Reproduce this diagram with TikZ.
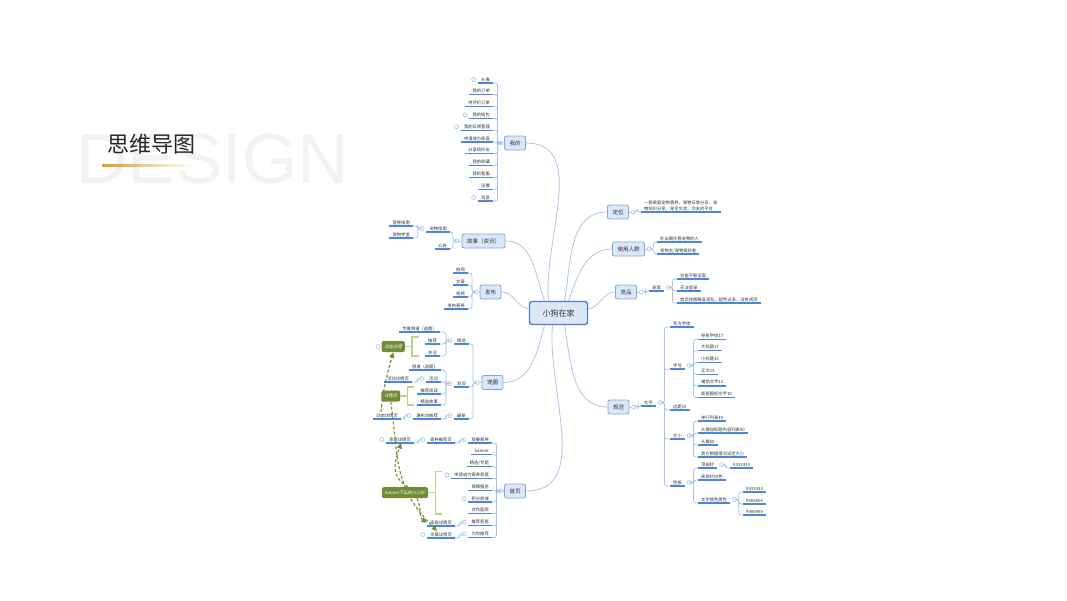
\documentclass[tikz,border=0pt]{standalone}
\usepackage{fontspec}
\newfontfamily\cjk{Noto Sans CJK SC}
\newfontfamily\cjkit[FakeSlant=0.2]{Noto Sans CJK SC}
\newfontfamily\bigsans{Liberation Sans}
\usetikzlibrary{arrows.meta,positioning,calc,fadings}
\definecolor{branch}{HTML}{A6C2EA}
\definecolor{uline}{HTML}{4C86DA}
\definecolor{topicfill}{HTML}{DCE7F6}
\definecolor{topicline}{HTML}{7EA6DF}
\definecolor{rootline}{HTML}{4F7FCF}
\definecolor{oliv}{HTML}{6F8C34}
\definecolor{summ}{HTML}{B9D28E}
\definecolor{gold}{HTML}{D3A118}
\definecolor{ink}{HTML}{2B2F3A}
\tikzset{
  >={Stealth[length=2mm]},
  root/.style={draw=rootline, line width=1.4pt, rounded corners=2.5pt, fill=topicfill, text=ink, font=\cjk\fontsize{8}{9}\selectfont, minimum width=58pt, minimum height=23pt},
  topic/.style={draw=topicline, line width=0.8pt, rounded corners=2pt, fill=topicfill, text=ink, font=\cjk\fontsize{5.5}{6}\selectfont, minimum width=21pt, minimum height=14pt, inner xsep=5pt},
  leaf/.style={font=\cjk\fontsize{4.3}{6}\selectfont, text=ink, inner xsep=3pt, inner ysep=1.2pt, text height=3.6pt, text depth=0.6pt, align=left,
    append after command={(\tikzlastnode.south west) edge[draw=uline, line width=1.2pt, -] (\tikzlastnode.south east)}},
  knob/.style={circle, draw=branch, fill=white, line width=0.6pt, minimum size=4pt, inner sep=0pt},
  link/.style={draw=branch, line width=0.75pt},
  lspine/.style={link, rounded corners=2.5pt},
  rspine/.style={link, rounded corners=2.5pt},
  note/.style={rounded corners=2pt, fill=oliv, text=white, font=\cjkit\fontsize{4.3}{5}\selectfont, inner xsep=3pt, minimum height=11pt},
  bracket/.style={draw=summ, line width=1.4pt},
  rel/.style={draw=oliv, dashed, dash pattern=on 3pt off 2pt, line width=1.1pt, -{Triangle[length=5.5pt,width=5pt]}},
}

\begin{document}
\begin{tikzpicture}[x=1pt, y=1pt]
  \useasboundingbox (0,0) rectangle (1067,-600);
  % title
  \node[font=\bigsans\fontsize{71}{71}\selectfont, text=black!5, inner sep=0pt] (bg) at (212.5,-159.5) {DESIGN};
  \node[font=\cjk\fontsize{22}{22}\selectfont, text=black!85, inner sep=0pt] (ttl) at (151,-144) {思维导图};
  \fill[gold, path fading=east] (102,-163.5) rectangle (192,-166.5);

  % centre and main topics
  \node[root] (pet) at (558.5,-313) {小狗在家};
  \node[topic] (me) at (515,-143) {我的};
  \node[topic] (story) at (483.5,-241) {故事（资讯）};
  \node[topic] (pub) at (490.5,-292) {发布};
  \node[topic] (circ) at (492.5,-382.5) {宠圈};
  \node[topic] (home) at (515,-491) {首页};
  \node[topic] (pos) at (618,-212) {定位};
  \node[topic] (users) at (628.5,-249) {使用人群};
  \node[topic] (comp) at (626,-292) {竞品};
  \node[topic] (spec) at (618.5,-407) {规范};
  \draw[link] ([xshift=-10pt]pet.north) to[out=95,in=0] (me.east);
  \draw[link] ([xshift=-14pt]pet.north) to[out=110,in=0] (story.east);
  \draw[link] ([yshift=4pt]pet.west) to[out=170,in=0] (pub.east);
  \draw[link] ([xshift=-14pt]pet.south) to[out=-105,in=0] (circ.east);
  \draw[link] ([xshift=-6pt]pet.south) to[out=-95,in=0] (home.east);
  \draw[link] ([xshift=6pt]pet.north) to[out=80,in=180] (pos.west);
  \draw[link] ([xshift=10pt]pet.north) to[out=70,in=180] (users.west);
  \draw[link] ([yshift=4pt]pet.east) to[out=10,in=180] (comp.west);
  \draw[link] ([xshift=6pt]pet.south) to[out=-80,in=180] (spec.west);

  \node[knob, left=0.5pt of me.west] (kme) {};
  \node[knob, left=2.5pt of story.west] (kstory) {};
  \node[knob, left=1pt of pub.west] (kpub) {};
  \node[knob, left=2pt of circ.west] (kcirc) {};
  \node[knob, left=1pt of home.west] (khome) {};
  \node[knob, right=2pt of pos.east] (kpos) {};
  \node[knob, right=2pt of users.east] (kusers) {};
  \node[knob, right=2pt of comp.east] (kcomp) {};
  \node[knob, right=2pt of spec.east] (kspec) {};
  \foreach \t in {me,story,pub,circ,home} \draw[link] (\t.west) -- (k\t.east);
  \foreach \t in {pos,users,comp,spec} \draw[link] (\t.east) -- (k\t.west);

  % 我的
  \foreach \n/\l [count=\i] in {me1/头像, me2/我的订单, me3/待评价订单, me4/我的钱包, me5/我的日常管理, me6/申请成为家庭, me7/分享给好友, me8/我的收藏, me9/我的客服, me10/设置, me11/消息} {
    \node[leaf, anchor=south east] (\n) at (493,{-71.2-11.8*\i}) {\l};
    \draw[lspine] (kme.west) -- ++(-1.5,0) |- (\n.south east);
  }
  \foreach \n in {me1,me4,me5,me11} \node[knob, left=2pt of \n.west] (k\n) {};

  % 故事
  \node[leaf, anchor=south east] (guide) at (450,-232) {宠物指南};
  \node[leaf, anchor=south east] (notice) at (450,-249) {公告};
  \foreach \n in {guide,notice} \draw[lspine] (kstory.west) -- ++(-1.5,0) |- (\n.south east);
  \node[knob, left=2pt of guide.west] (kguide) {};
  \node[leaf, anchor=south east] (food) at (413,-226) {营养指南};
  \node[leaf, anchor=south east] (school) at (413,-238) {宠物学堂};
  \foreach \n in {food,school} \draw[lspine] (kguide.west) -- ++(-2,0) |- (\n.south east);

  % 发布
  \foreach \n/\l [count=\i] in {pub1/拍照, pub2/文章, pub3/视频, pub4/发布寄养} {
    \node[leaf, anchor=south east] (\n) at (468,{-261-12*\i}) {\l};
    \draw[lspine] (kpub.west) -- ++(-2,0) |- (\n.south east);
  }

  % 宠圈
  \foreach \n/\l/\y in {sel/精选/344, disc/发现/387, new/最新/419} {
    \node[leaf, anchor=south east] (\n) at (469,-\y) {\l};
    \draw[lspine] (kcirc.west) -- ++(-2,0) |- (\n.south east);
    \node[knob, left=2pt of \n.west] (k\n) {};
  }
  \foreach \n/\l/\y in {ch1/专属频道（选题）/332, rec/推荐/344, fol/关注/356} {
    \node[leaf, anchor=south east] (\n) at (440,-\y) {\l};
    \draw[lspine] (ksel.west) -- ++(-1.5,0) |- (\n.south east);
  }
  \foreach \n/\l/\y in {ch2/频道（选题）/370, act/活动/382, read/推荐阅读/394, feat/精选故事/405} {
    \node[leaf, anchor=south east] (\n) at (441,-\y) {\l};
    \draw[lspine] (kdisc.west) -- ++(-1.5,0) |- (\n.south east);
  }
  \node[knob, left=2pt of act.west] (kact) {};
  \node[leaf, anchor=south east] (actd) at (412,-382) {活动详情页};
  \draw[lspine] (kact.west) -- ++(-2,0) |- (actd.south east);
  \node[leaf, anchor=south east] (flow) at (441,-419) {瀑布流推荐};
  \draw[lspine] (knew.west) -- ++(-1.5,0) |- (flow.south east);
  \node[knob, left=2pt of flow.west] (kflow) {};
  \node[leaf, anchor=south east] (dynd) at (401,-419) {动态详情页};
  \draw[lspine] (kflow.west) -- ++(-2,0) |- (dynd.south east);

  % summaries of 宠圈
  \draw[bracket] ([xshift=-6pt]rec.north west) -- ++(-7,0) |- ([xshift=-6pt]rec.west |- fol.south);
  \coordinate (b1) at ($([xshift=-13pt]rec.north west)!0.5!([xshift=-13pt]rec.west |- fol.south)$);
  \node[note, left=7pt of b1] (n1) {动态详情};
  \draw[bracket] (b1) -- (n1);
  \node[knob, left=1pt of n1.west] (kn1) {};
  \draw[bracket] ([xshift=-3pt]read.north west) -- ++(-7,0) |- ([xshift=-3pt]read.west |- feat.south);
  \coordinate (b2) at ($([xshift=-10pt]read.north west)!0.5!([xshift=-10pt]read.west |- feat.south)$);
  \node[note, left=7pt of b2] (n2) {详情页};
  \draw[bracket] (b2) -- (n2);

  % 首页
  \foreach \n/\l [count=\i] in {h1/我要寄养, h2/banner, h3/{精选/专题}, h4/申请成为寄养家庭, h5/保障服务, h6/积分商城, h7/合作医院, h8/推荐家庭, h9/为你推荐} {
    \node[leaf, anchor=south east] (\n) at (492,{-431.2-11.8*\i}) {\l};
    \draw[lspine] (khome.west) -- ++(-2,0) |- (\n.south east);
  }
  \foreach \n in {h1,h4,h6,h8,h9} \node[knob, left=2pt of \n.west] (k\n) {};
  \node[leaf, anchor=south east] (rcm) at (455,-443) {寄养推荐页};
  \draw[lspine] (kh1.west) -- ++(-2,0) |- (rcm.south east);
  \node[knob, left=2pt of rcm.west] (krcm) {};
  \node[leaf, anchor=south east] (fam1) at (414,-443) {家庭详情页};
  \draw[lspine] (krcm.west) -- ++(-2,0) |- (fam1.south east);
  \node[knob, left=2pt of fam1.west] (kfam1) {};
  \node[leaf, anchor=south east] (fam2) at (455,-526) {家庭详情页};
  \draw[lspine] (kh8.west) -- ++(-2,0) |- (fam2.south east);
  \node[leaf, anchor=south east] (art) at (455,-538) {文章详情页};
  \draw[lspine] (kh9.west) -- ++(-2,0) |- (art.south east);
  \node[knob, left=2pt of art.west] (kart) {};
  \draw[bracket] ([xshift=-9pt]h4.north west) -- ++(-7,0) |- ([xshift=-9pt]h4.west |- h7.south);
  \coordinate (b3) at ($([xshift=-16pt]h4.north west)!0.5!([xshift=-16pt]h4.west |- h7.south)$);
  \node[note, left=7pt of b3] (n3) {banner下面的入口栏};
  \draw[bracket] (b3) -- (n3);

  % 定位, 使用人群, 竞品
  \node[leaf, anchor=south west] (desc) at (641,-212) {一款家庭宠物寄养，宠物日常分享，宠\\物知识分享，宠主交流，交友的平台};
  \draw[rspine] (kpos.east) -- ++(2,0) |- (desc.south west);
  \node[leaf, anchor=south west] (u1) at (657,-242) {外出需托管宠物的人};
  \node[leaf, anchor=south west] (u2) at (657,-254) {宠物主/宠物爱好者};
  \foreach \n in {u1,u2} \draw[rspine] (kusers.east) -- ++(2,0) |- (\n.south west);
  \node[leaf, anchor=south west] (nest) at (649,-291) {宠窝};
  \draw[rspine] (kcomp.east) -- ++(2,0) |- (nest.south west);
  \node[knob, right=2pt of nest.east] (knest) {};
  \foreach \n/\l/\y in {c1/功能不够全面/279, c2/无法登录/291, c3/首页排版略显凌乱，配色过多，没有规范/303} {
    \node[leaf, anchor=south west] (\n) at (677,-\y) {\l};
    \draw[rspine] (knest.east) -- ++(2,0) |- (\n.south west);
  }

  % 规范
  \node[leaf, anchor=south west] (word) at (641,-406) {文字};
  \draw[rspine] (kspec.east) -- ++(2,0) |- (word.south west);
  \node[knob, right=2pt of word.east] (kword) {};
  \foreach \n/\l/\y in {fface/苹方字体/327, fsize/字号/369, margin/边距15/410, dims/大小/439, pal/色板/486} {
    \node[leaf, anchor=south west] (\n) at (670,-\y) {\l};
    \draw[rspine] (kword.east) -- ++(2,0) |- (\n.south west);
  }
  \foreach \n in {fsize,dims,pal} \node[knob, right=2pt of \n.east] (k\n) {};
  \foreach \n/\l [count=\i] in {s1/导航字体17, s2/大标题17, s3/小标题15, s4/正文13, s5/辅助文字12, s6/底部图标文字10} {
    \node[leaf, anchor=south west] (\n) at (698,{-327.4-11.7*\i}) {\l};
    \draw[rspine] (kfsize.east) -- ++(2,0) |- (\n.south west);
  }
  \foreach \n/\l [count=\i] in {d1/单行列表45, d2/头像加标题内容列表90, d3/头像50, d4/其它根据情况设定大小} {
    \node[leaf, anchor=south west] (\n) at (698,{-409-12*\i}) {\l};
    \draw[rspine] (kdims.east) -- ++(2,0) |- (\n.south west);
  }
  \foreach \n/\l/\y in {ptop/顶部栏/468, pbot/底部栏白色/480, ptxt/文字颜色黑色/503} {
    \node[leaf, anchor=south west] (\n) at (698,-\y) {\l};
    \draw[rspine] (kpal.east) -- ++(2,0) |- (\n.south west);
  }
  \foreach \n in {ptop,ptxt} \node[knob, right=2pt of \n.east] (k\n) {};
  \node[leaf, anchor=south west] (col0) at (730,-468) {\#333333};
  \draw[rspine] (kptop.east) -- ++(2,0) |- (col0.south west);
  \foreach \n/\l/\y in {col1/\#333333/492, col2/\#666666/504, col3/\#999999/515} {
    \node[leaf, anchor=south west] (\n) at (743,-\y) {\l};
    \draw[rspine] (kptxt.east) -- ++(2,0) |- (\n.south west);
  }

  % relations
  \draw[rel] ([xshift=-6pt]dynd.north) to[out=85,in=-105] (n1.south);
  \draw[rel] (n2.south) .. controls +(8,-55) and +(-45,45) .. ([xshift=10pt]art.north west);
  \draw[rel] ([xshift=3pt]n3.north) .. controls +(-20,12) and +(-5,-15) .. ([xshift=15pt]fam1.south west);
  \draw[rel] ([xshift=12pt]n3.south) to[out=-60,in=150] (fam2.west);
\end{tikzpicture}
\end{document}
